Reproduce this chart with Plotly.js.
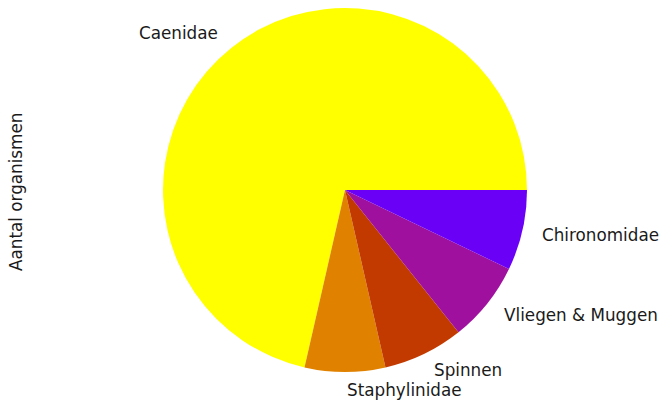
<!DOCTYPE html>
<html>
<head>
<meta charset="utf-8">
<script src="https://cdn.plot.ly/plotly-3.0.1.min.js"></script>
<style>html,body{margin:0;padding:0;background:#fff;}#chart{width:661px;height:406px;}</style>
</head>
<body>
<div id="chart"></div>
<script>
const labels = ['Caenidae', 'Staphylinidae', 'Spinnen', 'Vliegen & Muggen', 'Chironomidae'];
const values = [10, 1, 1, 1, 1];
const colors = ['#ffff00', '#e08200', '#c33a00', '#a0109e', '#6a00f6'];
const yLabel = 'Aantal organismen';

const W = 661, H = 406;
const cx = 345, cy = 190, R = 182;
const FONT = 'DejaVu Sans, sans-serif';
const FS = 16.8;

const total = values.reduce((a, b) => a + b, 0);
let cum = 0;
const annotations = [];
values.forEach((v, i) => {
  const mid = 2 * Math.PI * (cum + v / 2) / total;
  cum += v;
  const c = Math.cos(mid), s = Math.sin(mid);
  const px = cx + 1.1 * R * c;
  const py = cy - 1.1 * R * s;
  annotations.push({
    text: labels[i], showarrow: false,
    xref: 'paper', yref: 'paper',
    x: px / W, y: 1 - py / H,
    xanchor: c > -1e-9 ? 'left' : 'right', yanchor: 'middle',
    font: {family: FONT, size: FS, color: '#1a1a1a'}
  });
});
annotations.push({
  text: yLabel, showarrow: false, textangle: -90,
  xref: 'paper', yref: 'paper', x: 16 / W, y: 1 - 192 / H,
  xanchor: 'center', yanchor: 'middle',
  font: {family: FONT, size: FS, color: '#1a1a1a'}
});

// Plotly's counterclockwise mode places the first slice clockwise of the rotation line,
// so offset by the first slice's angle to start it at 3 o'clock like matplotlib.
const rotation = 90 - 360 * values[0] / total;

const trace = {
  type: 'pie',
  labels: labels,
  values: values,
  sort: false,
  direction: 'counterclockwise',
  rotation: rotation,
  textinfo: 'none',
  hoverinfo: 'label+value',
  marker: {colors: colors, line: {width: 0}},
  domain: {x: [(cx - R) / W, (cx + R) / W], y: [1 - (cy + R) / H, 1 - (cy - R) / H]}
};

Plotly.newPlot('chart', [trace], {
  width: W, height: H,
  margin: {l: 0, r: 0, t: 0, b: 0},
  showlegend: false,
  paper_bgcolor: '#fff',
  annotations: annotations
}, {displayModeBar: false, staticPlot: true});
</script>
</body>
</html>
